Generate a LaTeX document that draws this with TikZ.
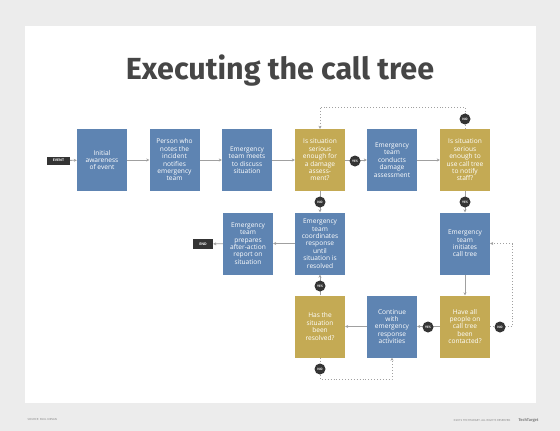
\documentclass[tikz,border=0pt]{standalone}
\usepackage{fontspec}
\usetikzlibrary{arrows.meta}
\newfontfamily\titlefont{Fira Sans}
\newfontfamily\boxfont{Open Sans}
\definecolor{bgc}{RGB}{236,236,236}
\definecolor{bluebox}{RGB}{94,132,178}
\definecolor{goldbox}{RGB}{196,170,84}
\definecolor{darkc}{RGB}{52,52,52}
\definecolor{linec}{RGB}{160,160,160}
\definecolor{titlec}{RGB}{70,70,70}
\tikzset{
  basebox/.style={minimum width=50pt, minimum height=62pt, inner sep=0pt, align=center, text=white,
    font=\boxfont\fontsize{6.6}{7.4}\selectfont},
  bluenode/.style={basebox, fill=bluebox},
  goldnode/.style={basebox, fill=goldbox},
  arr/.style={draw=linec, line width=0.8pt, -{Stealth[length=3pt,width=3pt]}},
  dotline/.style={draw=linec, line width=0.9pt, dotted, -{Stealth[length=3pt,width=3pt]}},
  badge/.style={circle, fill=darkc, minimum size=11pt, inner sep=0pt, text=white,
    font=\boxfont\bfseries\fontsize{3.2}{3.2}\selectfont},
  tagbox/.style={rectangle, fill=darkc, inner sep=0pt, text=white,
    font=\boxfont\bfseries\fontsize{3.5}{3.5}\selectfont}
}
\begin{document}
\begin{tikzpicture}[x=1pt,y=-1pt]
\useasboundingbox (0,0) rectangle (560,431);
\fill[bgc] (0,0) rectangle (560,431);
\fill[white] (25,26) rectangle (536,403);

\node[text=titlec, font=\titlefont\bfseries\fontsize{30.5}{32}\selectfont] (title) at (280,71) {Executing the call tree};

% row 1
\node[bluenode] (b1) at (102,160) {Initial\\awareness\\of event};
\node[bluenode] (b2) at (174.5,160) {Person who\\notes the\\incident\\notifies\\emergency\\team};
\node[bluenode] (b3) at (247,160) {Emergency\\team meets\\to discuss\\situation};
\node[goldnode] (b4) at (320,160) {Is situation\\serious\\enough for\\a damage\\assess-\\ment?};
\node[bluenode] (b5) at (392,160) {Emergency\\team\\conducts\\damage\\assessment};
\node[goldnode] (b6) at (465,160) {Is situation\\serious\\enough to\\use call tree\\to notify\\staff?};
% row 2
\node[bluenode] (r2a) at (248,243.5) {Emergency\\team\\prepares\\after-action\\report on\\situation};
\node[bluenode] (r2b) at (320,243.5) {Emergency\\team\\coordinates\\response\\until\\situation is\\resolved};
\node[bluenode] (r2c) at (465,243.5) {Emergency\\team\\initiates\\call tree};
% row 3
\node[goldnode] (r3a) at (320,326.5) {Has the\\situation\\been\\resolved?};
\node[bluenode] (r3b) at (392,326.5) {Continue\\with\\emergency\\response\\activities};
\node[goldnode] (r3c) at (465,326.5) {Have all\\people on\\call tree\\been\\contacted?};

% tags
\node[tagbox, minimum width=23pt, minimum height=8pt] (event) at (58.5,160.5) {EVENT};
\node[tagbox, minimum width=20pt, minimum height=10pt] (endtag) at (203,244) {END};

% helper coordinates
\coordinate (top) at (465,107);
\coordinate (rightc) at (512,326.5);
\coordinate (botc) at (320,379);

% connectors
\draw[arr] (event) -- (b1);
\draw[arr] (b1) -- (b2);
\draw[arr] (b2) -- (b3);
\draw[arr] (b3) -- (b4);
\draw[arr] (b4) -- (b5);
\draw[arr] (b5) -- (b6);
\draw[arr] (b4) -- (r2b);
\draw[arr] (b6) -- (r2c);
\draw[dotline] (b6.north) -- (top) -| (b4.north);
\draw[arr] (r2c) -- (r3c);
\draw[dotline] (r3c.east) -- (rightc) |- (r2c.east);
\draw[arr] (r3c) -- (r3b);
\draw[arr] (r3b) -- (r3a);
\draw[dotline] (r3a.south) -- (botc) -| (r3b.south);
\draw[arr] (r3a) -- (r2b);
\draw[arr] (r2b) -- (r2a);
\draw[arr] (r2a) -- (endtag);

% badges
\node[badge] (yes1) at (355,161) {YES};
\node[badge] (no1) at (320,202) {NO};
\node[badge] (no2) at (465,119) {NO};
\node[badge] (yes2) at (465,202) {YES};
\node[badge] (no3) at (500,327) {NO};
\node[badge] (yes3) at (428,327) {YES};
\node[badge] (yes4) at (320,286) {YES};
\node[badge] (no4) at (320,369) {NO};

% footer
\node[anchor=west, text=gray, font=\boxfont\fontsize{2.8}{3}\selectfont] (src) at (24,420) {SOURCE: PAUL KIRVAN};
\node[anchor=east, text=gray, font=\boxfont\fontsize{2.8}{3}\selectfont] (copy) at (514,420.5) {©2019 TECHTARGET. ALL RIGHTS RESERVED};
\node[anchor=west, text=gray, font=\titlefont\bfseries\fontsize{4}{4}\selectfont] (logo) at (515,420.5) {TechTarget};
\end{tikzpicture}
\end{document}
